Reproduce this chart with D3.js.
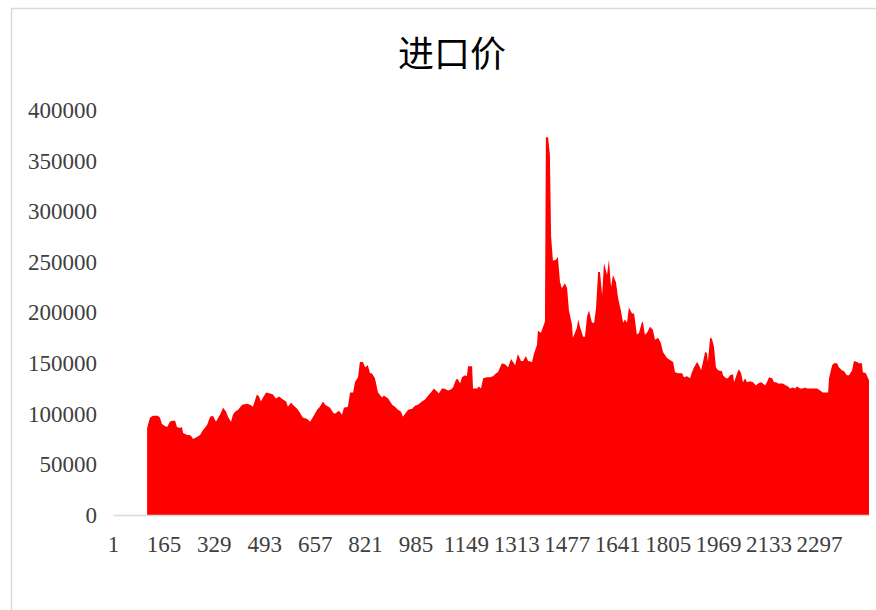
<!DOCTYPE html>
<html>
<head>
<meta charset="utf-8">
<script src="https://cdn.jsdelivr.net/npm/d3@7"></script>
<style>
  body { margin: 0; background: #fff; }
  svg { display: block; }
</style>
</head>
<body>
<div id="chart"></div>
<script>
// category numbers (x) and import price (y)
const catIdx = [112,121,131,147,154,160,170,177,186,193,203,209,219,225,229,242,251,258,261,274,
  284,294,307,317,326,336,343,349,359,369,375,385,391,398,408,421,437,447,456,469,
  476,482,489,499,512,521,531,541,554,564,570,580,586,600,609,619,632,642,652,665,
  674,684,691,707,717,723,736,746,752,765,772,782,788,798,804,814,821,830,837,843,
  853,863,876,882,896,909,918,928,938,944,951,961,974,983,993,1006,1016,1026,1035,1045,
  1055,1061,1071,1078,1091,1100,1107,1117,1123,1130,1136,1146,1152,1156,1169,1172,1185,1191,1198,1205,
  1218,1227,1237,1247,1253,1266,1276,1286,1296,1309,1318,1328,1335,1344,1351,1364,1370,1380,1383,1393,
  1400,1406,1409,1416,1422,1426,1432,1442,1448,1455,1461,1471,1478,1484,1494,1497,1510,1514,1520,1530,
  1536,1543,1549,1559,1566,1572,1579,1585,1592,1598,1608,1614,1621,1627,1637,1644,1653,1660,1666,1673,
  1679,1689,1696,1705,1712,1722,1725,1731,1738,1748,1757,1764,1774,1783,1790,1803,1813,1823,1829,1839,
  1852,1858,1868,1878,1884,1891,1901,1907,1914,1920,1927,1933,1936,1943,1949,1956,1962,1969,1982,1985,
  1995,2001,2008,2018,2021,2031,2037,2044,2050,2057,2063,2073,2083,2092,2099,2109,2115,2122,2128,2135,
  2145,2151,2158,2164,2174,2180,2190,2197,2203,2213,2219,2226,2236,2245,2252,2258,2268,2278,2284,2291,
  2301,2310,2317,2327,2330,2340,2346,2356,2362,2372,2379,2388,2395,2405,2411,2421,2427,2437,2440,2450,
  2460];
const price = [86000,96000,98000,98000,96000,90000,88000,87000,92000,93000,93000,87000,86000,87000,81000,79000,79000,77000,75000,77000,
  79000,84000,89000,97000,98000,92000,96000,99000,106000,102000,97000,92000,99000,102000,104000,109000,110000,109000,107000,119000,
  117000,112000,116000,121000,120000,119000,115000,117000,114000,112000,107000,111000,109000,105000,101000,96000,95000,92000,97000,104000,
  107000,112000,109000,106000,101000,100000,103000,99000,106000,107000,121000,121000,131000,136000,151000,151000,146000,148000,140000,140000,
  135000,121000,116000,118000,115000,109000,107000,104000,102000,97000,100000,104000,105000,108000,109000,112000,114000,118000,121000,125000,
  122000,120000,125000,125000,123000,124000,126000,134000,134000,130000,136000,138000,137000,147000,147000,125000,125000,127000,125000,135000,
  136000,136000,137000,140000,141000,150000,149000,146000,154000,148000,159000,152000,152000,157000,152000,151000,159000,168000,182000,180000,
  186000,191000,373000,373000,356000,275000,251000,252000,255000,230000,224000,229000,224000,202000,188000,175000,185000,193000,186000,176000,
  176000,196000,202000,190000,190000,204000,240000,240000,217000,249000,237000,252000,225000,237000,230000,214000,202000,190000,193000,190000,
  205000,199000,199000,178000,180000,191000,190000,178000,180000,186000,183000,173000,175000,170000,161000,155000,153000,151000,141000,140000,
  140000,136000,137000,135000,141000,146000,151000,148000,143000,151000,161000,160000,151000,175000,174000,166000,146000,143000,142000,138000,
  135000,135000,138000,139000,131000,140000,144000,140000,131000,135000,131000,132000,131000,128000,130000,131000,130000,128000,131000,136000,
  135000,131000,131000,130000,130000,130000,128000,127000,125000,126000,125000,127000,125000,125000,126000,125000,125000,125000,125000,125000,
  123000,121000,121000,121000,135000,148000,150000,150000,146000,143000,142000,138000,138000,143000,152000,151000,150000,150000,141000,140000,
  133000];

const xTicks = [1,165,329,493,657,821,985,1149,1313,1477,1641,1805,1969,2133,2297];
const yTicks = [0,50000,100000,150000,200000,250000,300000,350000,400000];
const nCats = 2460;
const titleText = "进口价";

const W = 876, H = 610;
const margin = { top: 110, right: 7, bottom: 95, left: 113 };
const areaColor = "#ff0000";

const svg = d3.select("#chart").append("svg")
  .attr("width", W)
  .attr("height", H);

svg.append("rect")
  .attr("width", W).attr("height", H)
  .attr("fill", "#fff");

// chart frame (runs off the right / bottom edge)
svg.append("rect")
  .attr("x", 11.5).attr("y", 8.5)
  .attr("width", 900).attr("height", 700)
  .attr("fill", "none")
  .attr("stroke", "#d9d9d9")
  .attr("stroke-width", 1.5);

svg.append("text")
  .attr("x", 452)
  .attr("y", 51)
  .attr("text-anchor", "middle")
  .attr("dominant-baseline", "central")
  .style("font-family", "'Noto Sans CJK SC', sans-serif")
  .style("font-size", "36px")
  .attr("fill", "#000")
  .text(titleText);

const x = d3.scaleLinear()
  .domain([1, nCats])
  .range([margin.left, W - margin.right]);
const y = d3.scaleLinear()
  .domain([0, 400000])
  .range([H - margin.bottom, margin.top]);

const pts = catIdx.map((c, i) => [c, price[i]]);

const area = d3.area()
  .x(d => x(d[0]))
  .y0(y(0))
  .y1(d => y(d[1]));

svg.append("path")
  .datum(pts)
  .attr("d", area)
  .attr("fill", areaColor);

// y axis: labels only
const gy = svg.append("g")
  .attr("transform", `translate(${margin.left},0)`)
  .call(d3.axisLeft(y).tickValues(yTicks).tickSize(0).tickPadding(16)
    .tickFormat(d3.format("d")));
gy.select(".domain").remove();

// x axis: grey line + labels
const gx = svg.append("g")
  .attr("transform", `translate(0,${y(0)})`)
  .call(d3.axisBottom(x).tickValues(xTicks).tickSize(0).tickPadding(21)
    .tickFormat(d3.format("d")));
gx.select(".domain")
  .attr("stroke", "#d9d9d9")
  .attr("stroke-width", 1.5);

svg.selectAll(".tick text")
  .style("font-family", "'Liberation Serif', 'Times New Roman', serif")
  .style("font-size", "23px")
  .attr("fill", "#404040");
</script>
</body>
</html>
